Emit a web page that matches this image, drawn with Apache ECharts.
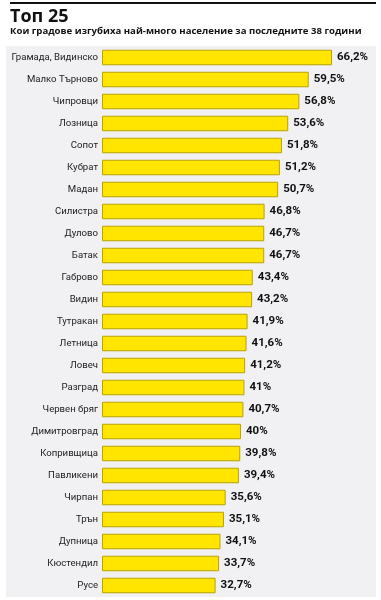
<!DOCTYPE html>
<html><head><meta charset="utf-8">
<script src="https://cdn.jsdelivr.net/npm/echarts@6/dist/echarts.min.js"></script>
<style>html,body{margin:0;padding:0;background:#fff}#c{width:381px;height:600px}</style>
</head><body><div id="c"></div>
<script>
const titleText = 'Топ 25';
const subtitleText = 'Кои градове изгубиха най-много население за последните 38 години';
const cities = ['Грамада, Видинско','Малко Търново','Чипровци','Лозница','Сопот','Кубрат','Мадан','Силистра','Дулово','Батак','Габрово','Видин','Тутракан','Летница','Ловеч','Разград','Червен бряг','Димитровград','Копривщица','Павликени','Чирпан','Трън','Дупница','Кюстендил','Русе'];
const losses = [66.2,59.5,56.8,53.6,51.8,51.2,50.7,46.8,46.7,46.7,43.4,43.2,41.9,41.6,41.2,41,40.7,40,39.8,39.4,35.6,35.1,34.1,33.7,32.7];

const chart = echarts.init(document.getElementById('c'));
chart.setOption({
  animation: false,
  backgroundColor: '#ffffff',
  graphic: [
    {type:'rect', shape:{x:10,y:2,width:366,height:2}, style:{fill:'#111'}},
    {type:'rect', shape:{x:6,y:46,width:370,height:551}, style:{fill:'#f1f1f3'}, z:-1}
  ],
  title: [
    {text: titleText, left: 10, top: 8, padding:0, textStyle:{fontFamily:'Open Sans', fontWeight:'bold', fontSize:18, color:'#111'}},
    {text: subtitleText, left: 10, top: 26, padding:0, textStyle:{fontFamily:'Open Sans', fontWeight:'bold', fontSize:9.6, color:'#111'}}
  ],
  grid: {left: 102, top: 46.5, width: 243.2, height: 550, containLabel:false, outerBoundsMode:'none'},
  xAxis: {type:'value', min:0, max:70, show:false},
  yAxis: {type:'category', data: cities, inverse:true,
    axisLine:{show:false}, axisTick:{show:false},
    axisLabel:{margin:4, fontFamily:'Roboto', fontSize:9.6, color:'#222'}},
  series: [{
    type:'bar', data: losses, barWidth: 15.5,
    itemStyle:{color:'#ffe500', borderColor:'#b9a300', borderWidth:1},
    label:{show:true, position:'right', distance:5, fontFamily:'Roboto', fontWeight:'bold', fontSize:11.5, color:'#111',
      formatter: p => String(p.value).replace('.', ',') + '%'}
  }]
});
</script></body></html>
